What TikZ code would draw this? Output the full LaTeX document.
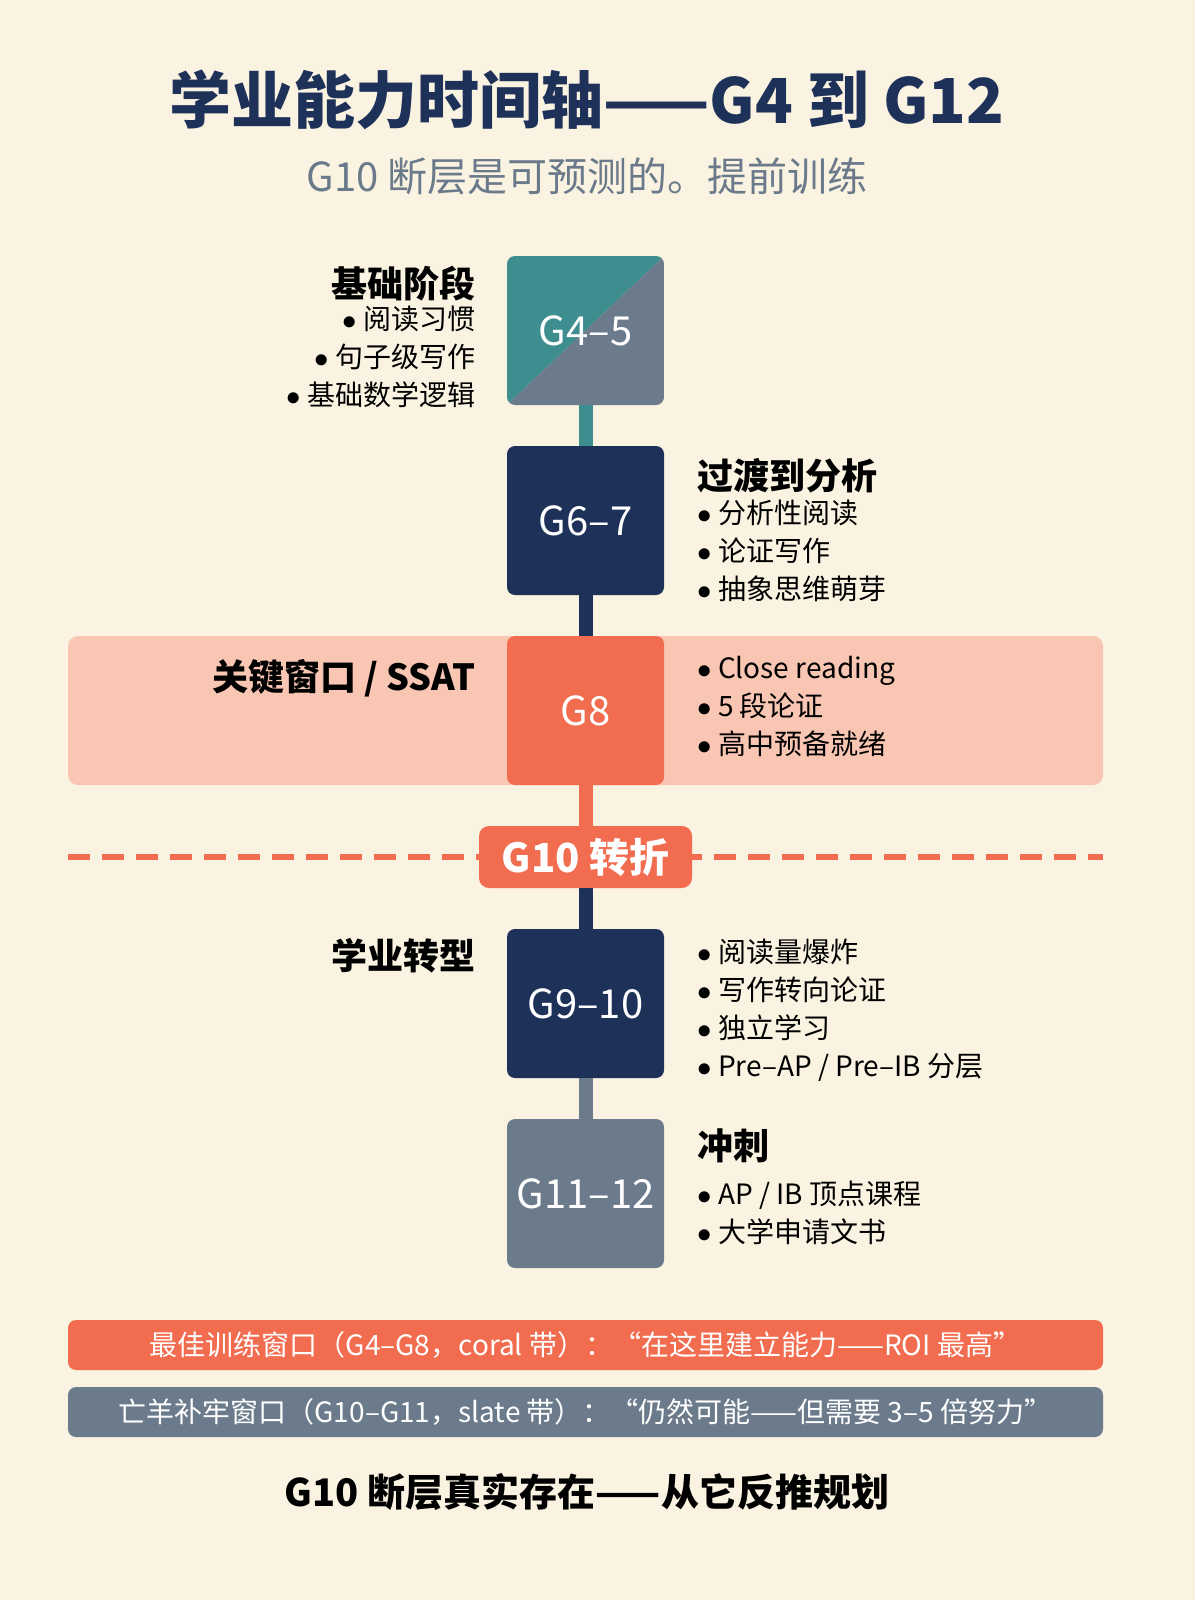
\documentclass[tikz,border=0pt]{standalone}
\usepackage{fontspec}
\setmainfont{Noto Sans CJK SC}
\usetikzlibrary{positioning}
\definecolor{cream}{HTML}{FAF3E2}
\definecolor{navy}{HTML}{1E3159}
\definecolor{tealc}{HTML}{3E8E90}
\definecolor{slatec}{HTML}{6B7B8C}
\definecolor{coral}{HTML}{F26C50}
\definecolor{coralband}{HTML}{F8C6B3}
\definecolor{subgray}{HTML}{6B7A8A}
\newcommand{\bul}{$\bullet$\ }

\begin{document}
\begin{tikzpicture}[x=0.5pt,y=-0.5pt,
    gradebox/.style={minimum width=78.5pt, minimum height=74.5pt, rounded corners=4pt,
        text=white, font=\fontsize{20}{24}\selectfont, inner sep=0pt},
    stage/.style={font=\fontsize{18}{22}\selectfont\bfseries, inner sep=0pt},
    leftlist/.style={anchor=north east, align=right, inner sep=0pt, font=\fontsize{14}{19}\selectfont},
    rightlist/.style={anchor=north west, align=left, inner sep=0pt, font=\fontsize{14}{19}\selectfont},
    axis/.style={line width=7pt},
    bar/.style={rounded corners=4pt, text=white, font=\fontsize{14}{17}\selectfont,
        minimum width=517.5pt, minimum height=25pt, inner sep=0pt}
]
\useasboundingbox[fill=cream] (0,0) rectangle (1195,1600);

% title
\node[text=navy, font=\fontsize{31}{36}\selectfont\bfseries] (title) at (587,100) {学业能力时间轴——G4 到 G12};
\node[text=subgray, font=\fontsize{20}{24}\selectfont] (subtitle) at (587,176) {G10 断层是可预测的。提前训练};

% G8 band and dashed turn line
\fill[coralband, rounded corners=5pt] (68,636) rectangle (1103,785);
\draw[coral, line width=3pt, dash pattern=on 11pt off 6pt] (68,857) -- (1103,857);

% grade boxes
\begin{scope}
\clip[rounded corners=4pt] (507,256) rectangle (664,405);
\fill[tealc] (507,256) -- (664,256) -- (507,405) -- cycle;
\fill[slatec] (664,256) -- (664,405) -- (507,405) -- cycle;
\end{scope}
\node[gradebox] (g45) at (585.5,330.5) {G4–5};
\node[gradebox, fill=navy] (g67) at (585.5,520.5) {G6–7};
\node[gradebox, fill=coral] (g8) at (585.5,710.5) {G8};
\node[fill=coral, rounded corners=5pt, text=white, font=\fontsize{20}{24}\selectfont\bfseries,
    minimum width=106.5pt, minimum height=31pt, inner sep=0pt] (turn) at (585.5,857) {G10 转折};
\node[gradebox, fill=navy] (g910) at (585.5,1003.5) {G9–10};
\node[gradebox, fill=slatec] (g1112) at (585.5,1193.5) {G11–12};

% axis pieces
\draw[axis, tealc] (g45.south) -- (g67.north);
\draw[axis, navy] (g67.south) -- (g8.north);
\draw[axis, coral] (g8.south) -- (turn.north);
\draw[axis, navy] (turn.south) -- (g910.north);
\draw[axis, slatec] (g910.south) -- (g1112.north);

% stage texts
\node[stage, anchor=east] (s45) at (476,284) {基础阶段};
\node[leftlist] (l45) at (476,306) {\bul 阅读习惯\\\bul 句子级写作\\\bul 基础数学逻辑};

\node[stage, anchor=west] (s67) at (697,476) {过渡到分析};
\node[rightlist] (l67) at (697,500) {\bul 分析性阅读\\\bul 论证写作\\\bul 抽象思维萌芽};

\node[stage, anchor=east] (s8) at (476,678) {关键窗口 / SSAT};
\node[rightlist] (l8) at (697,656) {\bul Close reading\\\bul 5 段论证\\\bul 高中预备就绪};

\node[stage, anchor=east] (s910) at (476,956) {学业转型};
\node[rightlist] (l910) at (697,939) {\bul 阅读量爆炸\\\bul 写作转向论证\\\bul 独立学习\\\bul Pre–AP / Pre–IB 分层};

\node[stage, anchor=west] (s1112) at (697,1146) {冲刺};
\node[rightlist] (l1112) at (697,1181) {\bul AP / IB 顶点课程\\\bul 大学申请文书};

% bottom bars
\node[bar, fill=coral] (best) at (585.5,1345) {最佳训练窗口（G4–G8，coral 带）：“在这里建立能力——ROI 最高”};
\node[bar, fill=slatec] (late) at (585.5,1412) {亡羊补牢窗口（G10–G11，slate 带）：“仍然可能——但需要 3–5 倍努力”};

\node[font=\fontsize{19}{23}\selectfont\bfseries] (closing) at (587,1492) {G10 断层真实存在——从它反推规划};
\end{tikzpicture}
\end{document}
